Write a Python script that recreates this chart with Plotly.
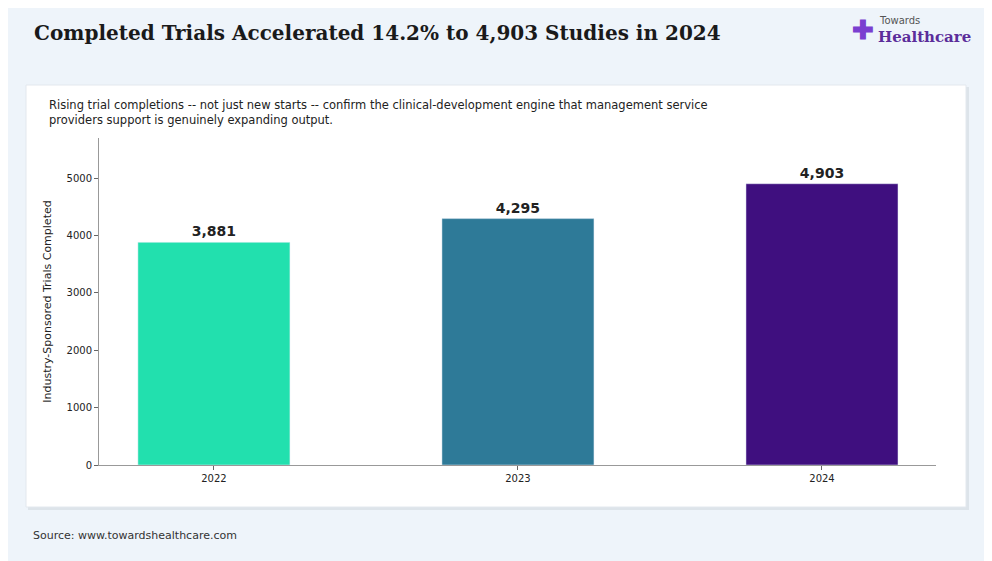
import plotly.graph_objects as go

years = ["2022", "2023", "2024"]
completed = [3881, 4295, 4903]
colors = ["#22e0ae", "#2e7a98", "#3f0f7f"]
labels = ["3,881", "4,295", "4,903"]

W, H = 992, 561
OFF = 8  # page body margin
L, R, T, B = 99 - OFF, 936 - OFF, 138 - OFF, 465 - OFF
def px(x): return (x - OFF - L) / (R - L)
def py(y): return (B - (y - OFF)) / (B - T)

fig = go.Figure(go.Bar(
    x=years, y=completed, marker_color=colors, width=0.5,
    text=labels, textposition="outside", cliponaxis=False,
    textfont=dict(size=14, color="#222", family="DejaVu Sans", weight="bold"),
    hoverinfo="skip"))

shapes = [
    dict(type="rect", xref="paper", yref="paper", x0=px(28), x1=px(969), y0=py(87), y1=py(510),
         fillcolor="#dde4ea", line_width=0, layer="below"),
    dict(type="rect", xref="paper", yref="paper", x0=px(26), x1=px(966), y0=py(85), y1=py(507),
         fillcolor="white", line=dict(color="#e3e8ee", width=1), layer="below"),
]
ann = [
    dict(text="<b>Completed Trials Accelerated 14.2% to 4,903 Studies in 2024</b>", xref="paper", yref="paper",
         x=px(32), y=py(33), xanchor="left", yanchor="middle", showarrow=False,
         font=dict(family="DejaVu Serif", size=20, color="#1a1a1a")),
    dict(text="Rising trial completions -- not just new starts -- confirm the clinical-development engine that management service<br>providers support is genuinely expanding output.",
         xref="paper", yref="paper", x=px(47), y=py(96), xanchor="left", yanchor="top", align="left",
         showarrow=False, font=dict(family="DejaVu Sans", size=11.5, color="#222")),
    dict(text="Source: www.towardshealthcare.com", xref="paper", yref="paper", x=px(31), y=py(535),
         xanchor="left", yanchor="middle", showarrow=False, font=dict(family="DejaVu Sans", size=11, color="#333")),
    dict(text="Towards", xref="paper", yref="paper", x=px(877), y=py(20), xanchor="left", yanchor="middle",
         showarrow=False, font=dict(family="DejaVu Sans", size=10, color="#555")),
    dict(text="<b>Healthcare</b>", xref="paper", yref="paper", x=px(876), y=py(37), xanchor="left", yanchor="middle",
         showarrow=False, font=dict(family="DejaVu Serif", size=15, color="#5b2d9a")),
    dict(text="<b>✚</b>", xref="paper", yref="paper", x=px(863), y=py(29), xanchor="center", yanchor="middle",
         showarrow=False, font=dict(size=26, color="#7a3fd0")),
]

fig.update_layout(
    width=W, height=H, margin=dict(l=L, r=W - R, t=T, b=H - B),
    paper_bgcolor="#eef4fa", plot_bgcolor="white", showlegend=False,
    shapes=shapes, annotations=ann, bargap=0.5,
    xaxis=dict(range=[-0.378, 2.375], showline=True, linecolor="#999", ticks="outside", ticklen=4,
               tickcolor="#666", tickfont=dict(family="DejaVu Sans", size=10, color="#222"), showgrid=False),
    yaxis=dict(range=[0, 5700], showline=True, linecolor="#999", ticks="outside", ticklen=4, tickcolor="#666",
               tickvals=[0, 1000, 2000, 3000, 4000, 5000], showgrid=False, zeroline=False,
               tickfont=dict(family="DejaVu Sans", size=10, color="#222"),
               title=dict(text="Industry-Sponsored Trials Completed", font=dict(family="DejaVu Sans", size=11, color="#222"), standoff=12)),
)
fig.write_html("out.html")
